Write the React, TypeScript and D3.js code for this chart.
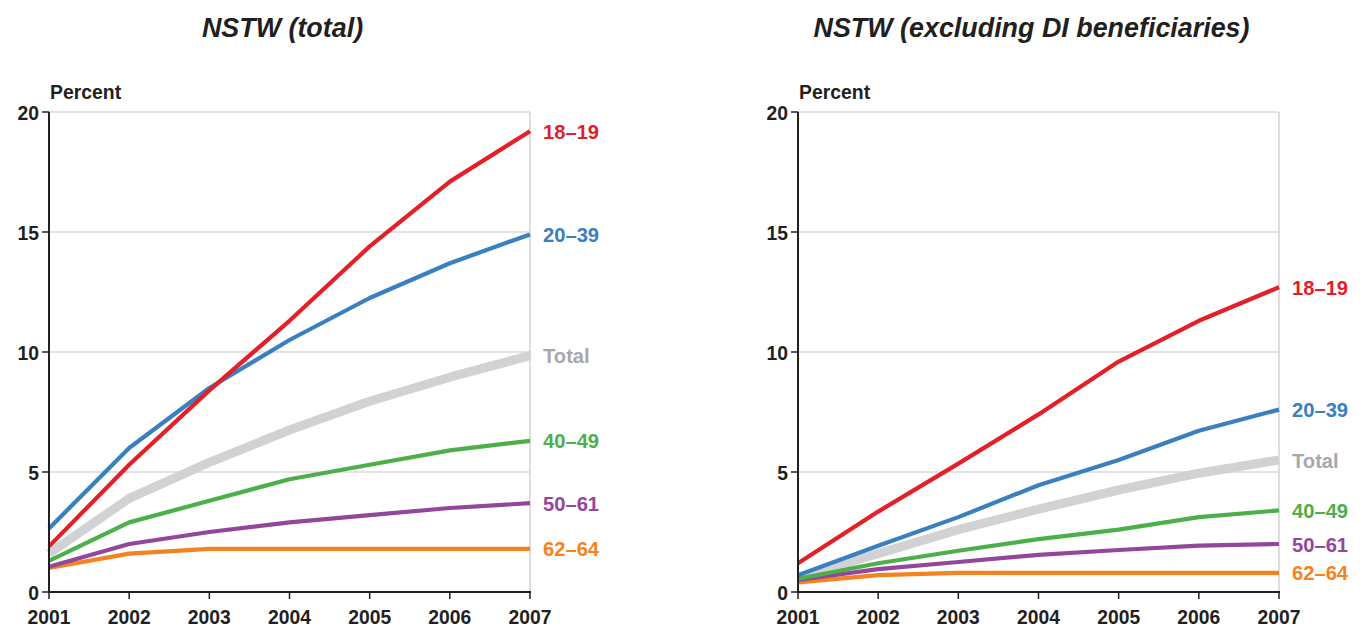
import React from "react";
import * as d3 from "d3";

const years = [2001, 2002, 2003, 2004, 2005, 2006, 2007];
const yTicks = [0, 5, 10, 15, 20];
const seriesNames = ["Total", "62–64", "50–61", "40–49", "20–39", "18–19"];
const seriesColors = ["#d1d2d4", "#f58220", "#93479b", "#4daf4a", "#3a80c1", "#e3202a"];
const labelColors = ["#a7a8aa", "#f58220", "#93479b", "#4daf4a", "#3a80c1", "#e3202a"];

const totalLeft = [
  [1.6, 3.9, 5.4, 6.75, 7.95, 8.95, 9.85],
  [1.0, 1.6, 1.8, 1.8, 1.8, 1.8, 1.8],
  [1.05, 2.0, 2.5, 2.9, 3.2, 3.5, 3.7],
  [1.3, 2.9, 3.8, 4.7, 5.3, 5.9, 6.3],
  [2.65, 6.0, 8.5, 10.5, 12.25, 13.7, 14.9],
  [1.9, 5.3, 8.4, 11.3, 14.4, 17.1, 19.2],
];
const exclRight = [
  [0.6, 1.6, 2.6, 3.45, 4.25, 4.95, 5.5],
  [0.4, 0.7, 0.8, 0.8, 0.8, 0.8, 0.8],
  [0.5, 0.95, 1.25, 1.55, 1.75, 1.93, 2.0],
  [0.55, 1.2, 1.72, 2.2, 2.6, 3.12, 3.4],
  [0.7, 1.93, 3.12, 4.45, 5.5, 6.72, 7.6],
  [1.2, 3.35, 5.35, 7.4, 9.6, 11.3, 12.7],
];

const titles = ["NSTW (total)", "NSTW (excluding DI beneficiaries)"];

const FONT = "'Liberation Sans', Arial, Helvetica, sans-serif";

function T({ x, y, size, sx = 1, anchor = "start", fill = "#231f20", italic = false, children }: any) {
  return (
    <text
      transform={`translate(${x},${y}) scale(${sx},1)`}
      textAnchor={anchor}
      fontSize={size}
      fontWeight="bold"
      fontStyle={italic ? "italic" : "normal"}
      fill={fill}
      fontFamily={FONT}
    >
      {children}
    </text>
  );
}

function Panel({ x0, x1, title, data }: { x0: number; x1: number; title: string; data: number[][] }) {
  const x = d3.scaleLinear().domain([2001, 2007]).range([x0, x1]);
  const y = d3.scaleLinear().domain([0, 20]).range([592, 112]);
  const line = d3
    .line<number>()
    .x((_, i) => x(years[i]))
    .y((v) => y(v));
  return (
    <g>
      <T x={(x0 + x1) / 2 - 7} y={37} size={28} sx={0.96} anchor="middle" italic>
        {title}
      </T>
      <T x={x0 + 1} y={99} size={20} sx={0.97}>
        Percent
      </T>
      {yTicks.filter((t) => t > 0).map((t) => (
        <line key={t} x1={x0} x2={x1} y1={y(t)} y2={y(t)} stroke="#c8c8c8" strokeWidth={1.2} />
      ))}
      <line x1={x1} x2={x1} y1={y(20)} y2={y(0)} stroke="#c8c8c8" strokeWidth={1.2} />
      {data.map((vals, i) => (
        <path
          key={i}
          d={line(vals) || ""}
          fill="none"
          stroke={seriesColors[i]}
          strokeWidth={i === 0 ? 9 : 4.2}
          strokeLinejoin="round"
        />
      ))}
      <line x1={x0} x2={x0} y1={y(20)} y2={y(0) + 1} stroke="#231f20" strokeWidth={2} />
      <line x1={x0 - 1} x2={x1 + 1} y1={y(0)} y2={y(0)} stroke="#231f20" strokeWidth={2} />
      {yTicks.map((t) => (
        <g key={t}>
          <line x1={x0 - 7} x2={x0} y1={y(t)} y2={y(t)} stroke="#231f20" strokeWidth={1.5} />
          <T x={x0 - 10} y={y(t) + 7.5} size={21} sx={0.92} anchor="end">
            {t}
          </T>
        </g>
      ))}
      {years.map((yr) => (
        <g key={yr}>
          <line x1={x(yr)} x2={x(yr)} y1={y(0)} y2={y(0) + 7} stroke="#231f20" strokeWidth={1.5} />
          <T x={x(yr)} y={624} size={21} sx={0.92} anchor="middle">
            {yr}
          </T>
        </g>
      ))}
      {data.map((vals, i) => (
        <T key={i} x={x1 + 13} y={y(vals[vals.length - 1]) + 7.5} size={21} sx={0.96} fill={labelColors[i]}>
          {seriesNames[i]}
        </T>
      ))}
    </g>
  );
}

export default function App() {
  return (
    <svg width={1362} height={629} style={{ position: "absolute", left: 0, top: 0, background: "#fff" }}>
      <rect width={1362} height={629} fill="#fff" />
      <Panel x0={49} x1={530} title={titles[0]} data={totalLeft} />
      <Panel x0={798} x1={1279} title={titles[1]} data={exclRight} />
    </svg>
  );
}
